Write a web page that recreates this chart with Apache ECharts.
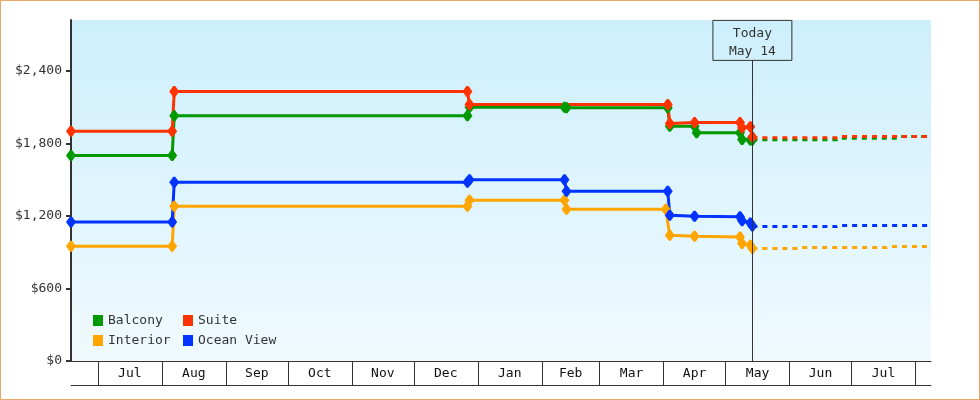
<!DOCTYPE html>
<html>
<head>
<meta charset="utf-8">
<script src="https://cdn.jsdelivr.net/npm/echarts@6/dist/echarts.min.js"></script>
<style>
  body { margin: 0; background: #fff; }
  #wrap { position: relative; width: 980px; height: 400px; }
  #chart { width: 980px; height: 400px; }
  #frame { position: absolute; left: 0; top: 0; width: 980px; height: 400px; box-sizing: border-box;
           border: 1px solid #e9a965; pointer-events: none; }
</style>
</head>
<body>
<div id="wrap">
  <div id="chart"></div>
  <div id="frame"></div>
</div>
<script>
// 月份刻度与标签
const months = ['Jul', 'Aug', 'Sep', 'Oct', 'Nov', 'Dec', 'Jan', 'Feb', 'Mar', 'Apr', 'May', 'Jun', 'Jul'];
const monthStarts = ['2024-07-01', '2024-08-01', '2024-09-01', '2024-10-01', '2024-11-01', '2024-12-01',
    '2025-01-01', '2025-02-01', '2025-03-01', '2025-04-01', '2025-05-01', '2025-06-01', '2025-07-01', '2025-08-01'];
const yTicks = [0, 600, 1200, 1800, 2400];
const today = '2025-05-14';
const todayLabel = 'Today\nMay 14';

// 历史价格
const balcony = [
    ['2024-06-18', 1699], ['2024-08-06', 1699], ['2024-08-07', 2029], ['2024-12-27', 2029],
    ['2024-12-28', 2099], ['2025-02-12', 2099], ['2025-02-13', 2094], ['2025-04-03', 2094],
    ['2025-04-04', 1941], ['2025-04-16', 1941], ['2025-04-17', 1887], ['2025-05-08', 1887],
    ['2025-05-09', 1832], ['2025-05-13', 1827], ['2025-05-14', 1827]
];
const interior = [
    ['2024-06-18', 949], ['2024-08-06', 949], ['2024-08-07', 1279], ['2024-12-27', 1279],
    ['2024-12-28', 1329], ['2025-02-12', 1329], ['2025-02-13', 1255], ['2025-04-02', 1255],
    ['2025-04-04', 1040], ['2025-04-16', 1032], ['2025-05-08', 1026], ['2025-05-09', 972],
    ['2025-05-13', 958], ['2025-05-14', 930]
];
const oceanView = [
    ['2024-06-18', 1149], ['2024-08-06', 1149], ['2024-08-07', 1479], ['2024-12-27', 1479],
    ['2024-12-28', 1499], ['2025-02-12', 1499], ['2025-02-13', 1404], ['2025-04-03', 1404],
    ['2025-04-04', 1206], ['2025-04-16', 1198], ['2025-05-08', 1192], ['2025-05-09', 1159],
    ['2025-05-13', 1142], ['2025-05-14', 1117]
];
const suite = [
    ['2024-06-18', 1899], ['2024-08-06', 1899], ['2024-08-07', 2229], ['2024-12-27', 2229],
    ['2024-12-28', 2122], ['2025-04-03', 2122], ['2025-04-04', 1965], ['2025-04-16', 1972],
    ['2025-05-08', 1972], ['2025-05-09', 1929], ['2025-05-13', 1937], ['2025-05-14', 1852]
];

// 预测价格（虚线）
const balconyForecast = [
    ['2025-05-14', 1829], ['2025-06-24', 1829], ['2025-06-25', 1843], ['2025-07-23', 1843],
    ['2025-07-24', 1857], ['2025-08-08', 1857]
];
const interiorForecast = [
    ['2025-05-14', 930], ['2025-06-04', 930], ['2025-06-05', 938], ['2025-07-18', 938],
    ['2025-07-19', 946], ['2025-08-08', 946]
];
const oceanViewForecast = [
    ['2025-05-14', 1112], ['2025-06-24', 1112], ['2025-06-25', 1121], ['2025-08-08', 1121]
];
const suiteForecast = [
    ['2025-05-14', 1847], ['2025-06-24', 1847], ['2025-06-25', 1857], ['2025-08-08', 1857]
];

const colors = { Balcony: '#009900', Interior: '#ffa500', 'Ocean View': '#0033ff', Suite: '#ff3300' };
const FONT = 'DejaVu Sans Mono';
// 圆角菱形标记
const MARKER = 'path://M4,0 L6,0 L10,5 L6,10 L4,10 L0,5 Z';

const t = s => new Date(s + 'T00:00:00').getTime();
const toData = arr => arr.map(d => [t(d[0]), d[1]]);

const tickTimes = monthStarts.map(t);
const labelTimes = tickTimes.slice(0, -1).map((v, i) => (v + tickTimes[i + 1]) / 2);
const xMin = t('2024-06-18');
const xMax = t('2025-08-08') + 12 * 3600000;

const chart = echarts.init(document.getElementById('chart'));

function solid(name, arr, extra) {
    return Object.assign({
        name: name,
        type: 'line',
        data: toData(arr),
        symbol: MARKER,
        symbolSize: [10, 11],
        itemStyle: { color: colors[name] },
        lineStyle: { color: colors[name], width: 3 }
    }, extra || {});
}
function dashed(name, arr) {
    return {
        name: name + ' forecast',
        type: 'line',
        data: toData(arr),
        symbol: 'none',
        itemStyle: { color: colors[name] },
        lineStyle: { color: colors[name], width: 3, type: [5, 5], cap: 'butt' }
    };
}

const legendBase = {
    orient: 'vertical', top: 314, padding: 0,
    icon: 'rect', itemWidth: 10, itemHeight: 11, itemGap: 7,
    selectedMode: false,
    textStyle: { fontFamily: FONT, fontSize: 13, color: '#333', lineHeight: 13 }
};

const option = {
    animation: false,
    textStyle: { fontFamily: FONT },
    grid: {
        left: 71, right: 49, top: 20, bottom: 39,
        show: true,
        borderWidth: 0,
        backgroundColor: new echarts.graphic.LinearGradient(0, 0, 0, 1, [
            { offset: 0, color: '#cdeffc' },
            { offset: 1, color: '#f0faff' }
        ])
    },
    legend: [
        Object.assign({ left: 93, data: ['Balcony', 'Interior'] }, legendBase),
        Object.assign({ left: 183, data: ['Suite', 'Ocean View'] }, legendBase)
    ],
    xAxis: [
        {
            type: 'value',
            min: xMin,
            max: xMax,
            axisLine: { lineStyle: { color: '#333', width: 1 } },
            axisTick: { show: true, length: 24, customValues: tickTimes, lineStyle: { color: '#333', width: 1 } },
            axisLabel: {
                customValues: labelTimes,
                margin: 6,
                fontFamily: FONT, fontSize: 13, color: '#111',
                formatter: function (value) {
                    const i = labelTimes.findIndex(v => Math.abs(v - value) < 3600000);
                    return i >= 0 ? months[i] : '';
                }
            },
            splitLine: { show: false }
        },
        {
            type: 'value',
            position: 'bottom',
            offset: 24,
            min: xMin,
            max: xMax,
            axisLine: { lineStyle: { color: '#333', width: 1 } },
            axisTick: { show: false },
            axisLabel: { show: false },
            splitLine: { show: false }
        }
    ],
    yAxis: {
        type: 'value',
        min: 0,
        max: 2820,
        interval: 600,
        axisLine: { show: true, lineStyle: { color: '#333', width: 2 } },
        axisTick: { show: true, length: 5, customValues: yTicks, lineStyle: { color: '#333', width: 2 } },
        axisLabel: {
            customValues: yTicks,
            margin: 9,
            fontFamily: FONT, fontSize: 13, color: '#333',
            formatter: v => '$' + v.toLocaleString('en-US')
        },
        splitLine: { show: false }
    },
    series: [
        dashed('Balcony', balconyForecast),
        dashed('Interior', interiorForecast),
        dashed('Ocean View', oceanViewForecast),
        dashed('Suite', suiteForecast),
        solid('Balcony', balcony),
        solid('Interior', interior),
        solid('Ocean View', oceanView),
        solid('Suite', suite, {
            markLine: {
                silent: true,
                symbol: 'none',
                lineStyle: { color: '#333', width: 1, type: 'solid' },
                label: {
                    show: true,
                    position: 'end',
                    distance: 0,
                    formatter: todayLabel,
                    fontFamily: FONT, fontSize: 13, color: '#333', lineHeight: 18,
                    borderColor: '#333', borderWidth: 1,
                    padding: [4, 16, 0, 16]
                },
                data: [[{ coord: [t(today), 0] }, { coord: [t(today), 2486] }]]
            }
        })
    ]
};

chart.setOption(option);
window.addEventListener('resize', () => chart.resize());
</script>
</body>
</html>
